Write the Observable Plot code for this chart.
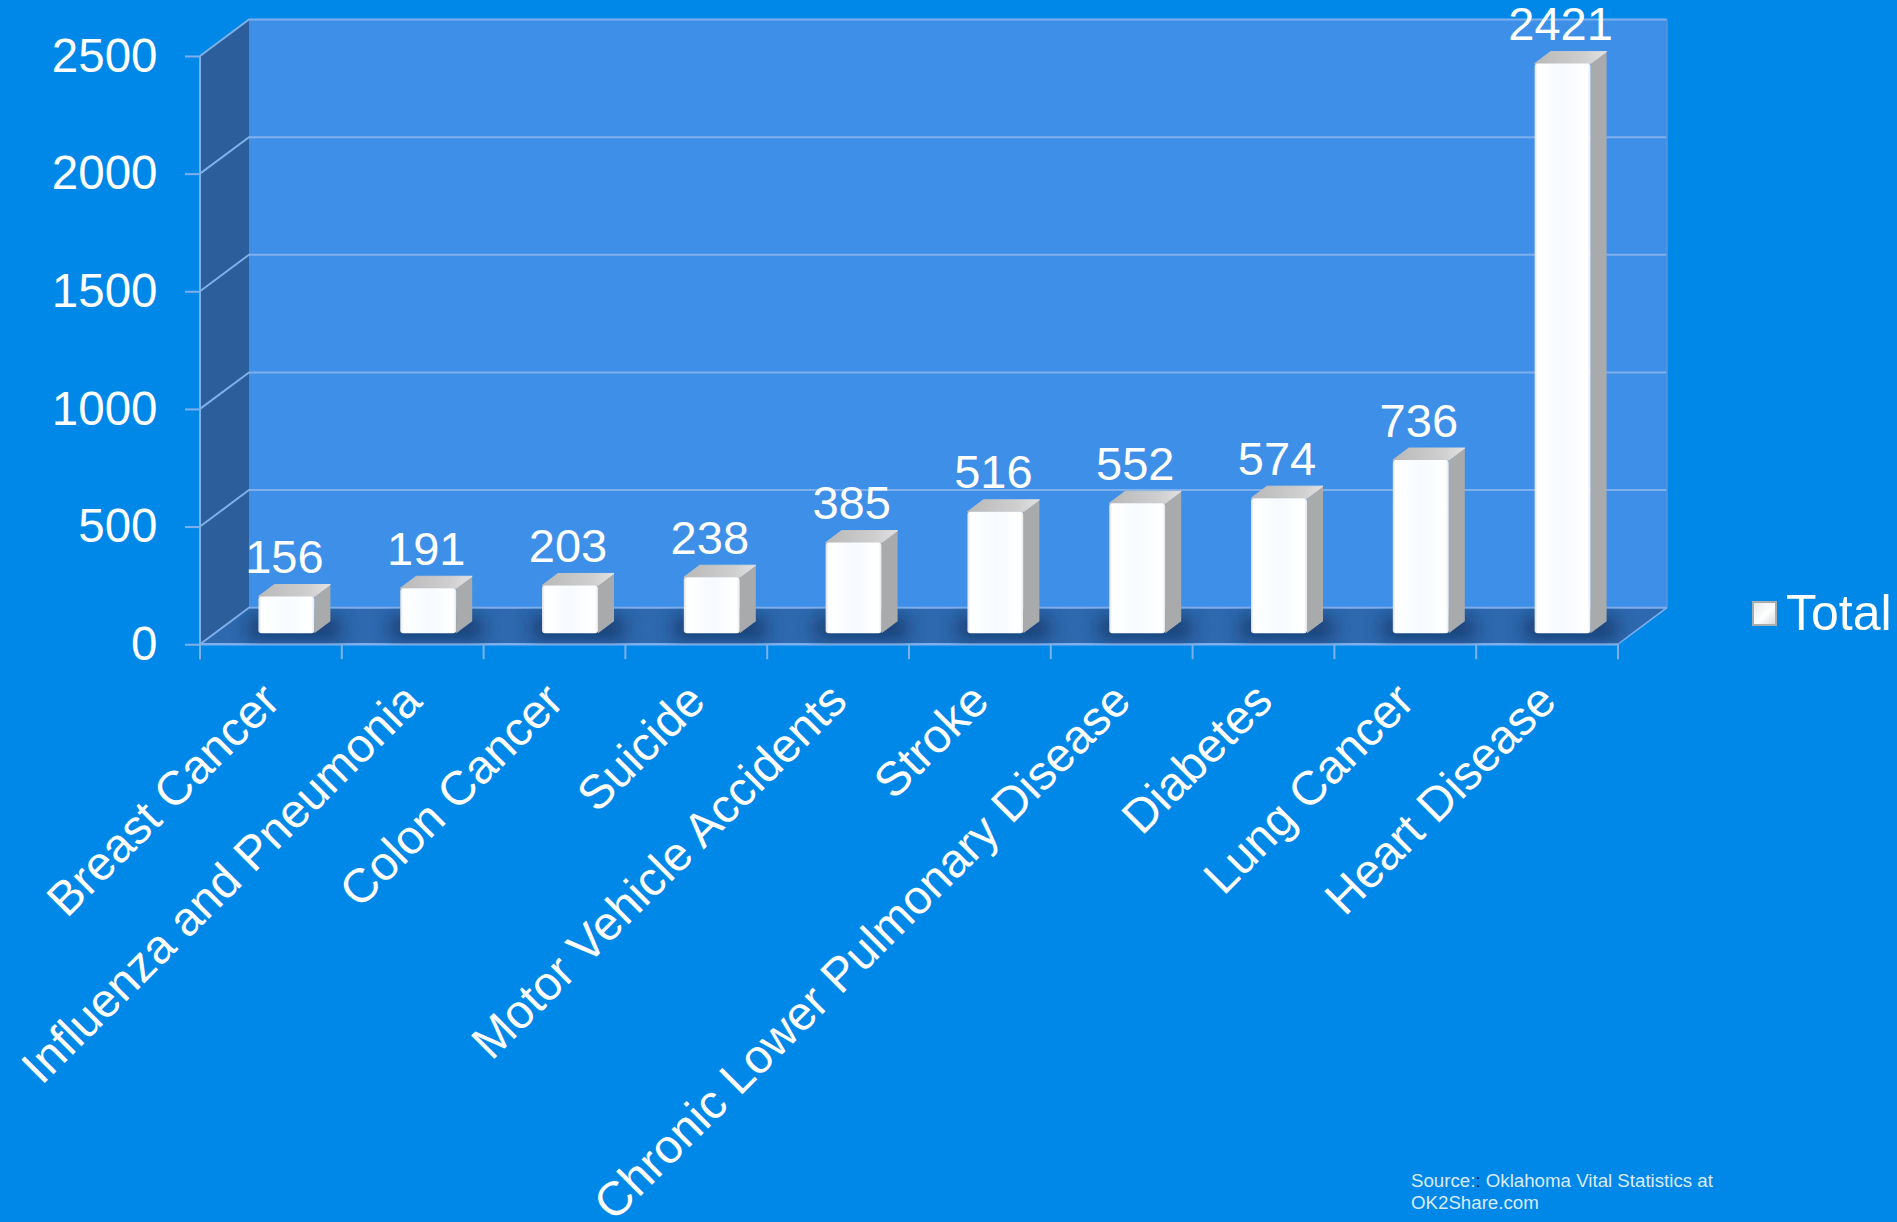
<!DOCTYPE html>
<html>
<head>
<meta charset="utf-8">
<script src="https://cdn.jsdelivr.net/npm/d3@7"></script>
<script src="https://cdn.jsdelivr.net/npm/@observablehq/plot@0.6"></script>
<style>
html,body{margin:0;padding:0;background:#0088e8;overflow:hidden;}
body{width:1897px;height:1222px;position:relative;font-family:"Liberation Sans",Arial,sans-serif;}
#chart svg{display:block;}
#legend{position:absolute;left:1752px;top:584px;display:flex;align-items:center;color:#fff;font-size:50px;line-height:58px;}
#legend i{display:block;width:25px;height:25px;margin-right:9px;box-sizing:border-box;border:2px solid #a9adb0;background:linear-gradient(135deg,#e6e8ea,#ffffff 55%,#d8dadc);}
#source{position:absolute;left:1411px;top:1170px;width:340px;color:#dcebf8;font-size:18.7px;line-height:22px;}
#source b{font-weight:normal;color:#06213f;}
</style>
</head>
<body>
<div id="chart"></div>
<div id="legend"><i></i><span>Total</span></div>
<div id="source">Source:<b>:</b> Oklahoma Vital Statistics at<br>OK2Share.com</div>
<script>
const categories = ["Breast Cancer","Influenza and Pneumonia","Colon Cancer","Suicide","Motor Vehicle Accidents","Stroke","Chronic Lower Pulmonary Disease","Diabetes","Lung Cancer","Heart Disease"];
const totals = [156,191,203,238,385,516,552,574,736,2421];
const yTicks = [0,500,1000,1500,2000,2500];
const rows = categories.map((c,i)=>({category:c,total:totals[i]}));

const lineColor = "#7fb0ec";
const gapX = 15.5, gapY = -11, barDepthX = 16, barDepthY = -12, wallX = 49, wallY = -36.5;

function pts(a){return a.map(p=>p.join(",")).join(" ");}

function room(index, scales, values, dim){
  const g = d3.create("svg:g");
  const x0 = dim.marginLeft, x1 = dim.width-dim.marginRight;
  const y0 = scales.y(0), yT = scales.y(2500);
  const defs = g.append("defs");
  const lg = (id,x2,y2,stops)=>{
    const l = defs.append("linearGradient").attr("id",id).attr("x1",0).attr("y1",0).attr("x2",x2).attr("y2",y2);
    stops.forEach(([o,c])=>l.append("stop").attr("offset",o).attr("stop-color",c));
  };
  lg("barFront",1,0,[[0,"#d9dde0"],[0.05,"#ffffff"],[0.5,"#f7fbff"],[0.95,"#ffffff"],[1,"#e2e5e8"]]);
  lg("barTop",1,0,[[0,"#b9b9b9"],[0.7,"#cfcfcf"],[1,"#e2e2e2"]]);
  defs.append("filter").attr("id","soft").attr("x","-30%").attr("y","-60%").attr("width","160%").attr("height","220%")
    .append("feGaussianBlur").attr("stdDeviation",9);
  defs.append("clipPath").attr("id","floorClip").append("polygon")
    .attr("points",pts([[x0,y0],[x0+wallX,y0+wallY],[x1+wallX,y0+wallY],[x1,y0]]));
  // back wall
  g.append("polygon").attr("fill","#3e8fe8").attr("points",pts([[x0+wallX,yT+wallY],[x1+wallX,yT+wallY],[x1+wallX,y0+wallY],[x0+wallX,y0+wallY]]));
  // left wall
  g.append("polygon").attr("fill","#2b5e9a").attr("points",pts([[x0,y0],[x0,yT],[x0+wallX,yT+wallY],[x0+wallX,y0+wallY]]));
  // floor
  g.append("polygon").attr("fill","#2e68ae").attr("points",pts([[x0,y0],[x0+wallX,y0+wallY],[x1+wallX,y0+wallY],[x1,y0]]));
  // grid lines
  yTicks.forEach(t=>{
    const y = scales.y(t);
    g.append("polyline").attr("fill","none").attr("stroke",lineColor).attr("stroke-width",2)
      .attr("points",pts([[x0,y],[x0+wallX,y+wallY],[x1+wallX,y+wallY]]));
  });
  g.append("line").attr("x1",x1+wallX).attr("x2",x1+wallX).attr("y1",yT+wallY).attr("y2",y0+wallY).attr("stroke","#5a94dc").attr("stroke-width",1.5);
  g.append("line").attr("x1",x0).attr("x2",x0).attr("y1",yT).attr("y2",y0+15).attr("stroke",lineColor).attr("stroke-width",2);
  g.append("line").attr("x1",x1).attr("x2",x1+wallX).attr("y1",y0).attr("y2",y0+wallY).attr("stroke",lineColor).attr("stroke-width",1.5);
  g.append("line").attr("x1",x0).attr("x2",x1).attr("y1",y0).attr("y2",y0).attr("stroke",lineColor).attr("stroke-width",2.5);
  // category ticks
  const step = scales.x.bandwidth();
  categories.forEach(c=>{
    g.append("line").attr("x1",scales.x(c)).attr("x2",scales.x(c)).attr("y1",y0).attr("y2",y0+15).attr("stroke",lineColor).attr("stroke-width",2);
  });
  g.append("line").attr("x1",x1).attr("x2",x1).attr("y1",y0).attr("y2",y0+15).attr("stroke",lineColor).attr("stroke-width",2);
  // floor shadows
  const sh = g.append("g").attr("clip-path","url(#floorClip)");
  categories.forEach(c=>{
    const cx = scales.x(c)+step/2+gapX+barDepthX/2;
    sh.append("rect").attr("x",cx-46).attr("width",92).attr("y",y0+gapY-16).attr("height",22)
      .attr("fill","#143c72").attr("filter","url(#soft)");
  });
  return g.node();
}

function barSides(index, scales){
  const g = d3.create("svg:g");
  const step = scales.x.bandwidth();
  rows.forEach(d=>{
    const l = scales.x(d.category)+step/2+gapX-barW/2, r = l+barW;
    const top = scales.y(d.total)+gapY, bot = scales.y(0)+gapY;
    g.append("polygon").attr("fill","#a8aaac").attr("points",pts([[r,top],[r+barDepthX,top+barDepthY],[r+barDepthX,bot+barDepthY],[r,bot]]));
    g.append("polygon").attr("fill","url(#barTop)").attr("stroke","url(#barTop)").attr("stroke-width",1).attr("stroke-linejoin","round")
      .attr("points",pts([[l,top],[l+barDepthX,top+barDepthY],[r+barDepthX,top+barDepthY],[r,top]]));
  });
  return g.node();
}

const barW = 56;
const bandW = 141.8;

const plot = Plot.plot({
  width:1897, height:1222,
  marginLeft:200, marginRight:279, marginTop:56, marginBottom:577.8,
  style:{background:"transparent",fontFamily:"'Liberation Sans',Arial,sans-serif",overflow:"visible"},
  x:{type:"band",domain:categories,padding:0,round:false,label:null},
  y:{domain:[0,2500],label:null},
  marks:[
    room,
    barSides,
    Plot.barY(rows,{x:"category",y:"total",dx:gapX,dy:gapY,insetLeft:(bandW-barW)/2,insetRight:(bandW-barW)/2,fill:"url(#barFront)",rx:3}),
    Plot.text(rows,{x:"category",y:"total",text:d=>String(d.total),dx:gapX-2.5,dy:gapY-24,fontSize:47,fill:"white",textAnchor:"middle",lineAnchor:"bottom"}),
    Plot.axisY(yTicks,{stroke:lineColor,strokeWidth:2,color:"white",tickSize:15,tickPadding:28,fontSize:47.5,tickFormat:d=>String(d),label:null}),
    Plot.axisX(categories,{tickSize:0,tickRotate:-45,tickPadding:48,fontSize:47.7,color:"white",label:null})
  ]
});
document.getElementById("chart").appendChild(plot);
</script>
</body>
</html>
